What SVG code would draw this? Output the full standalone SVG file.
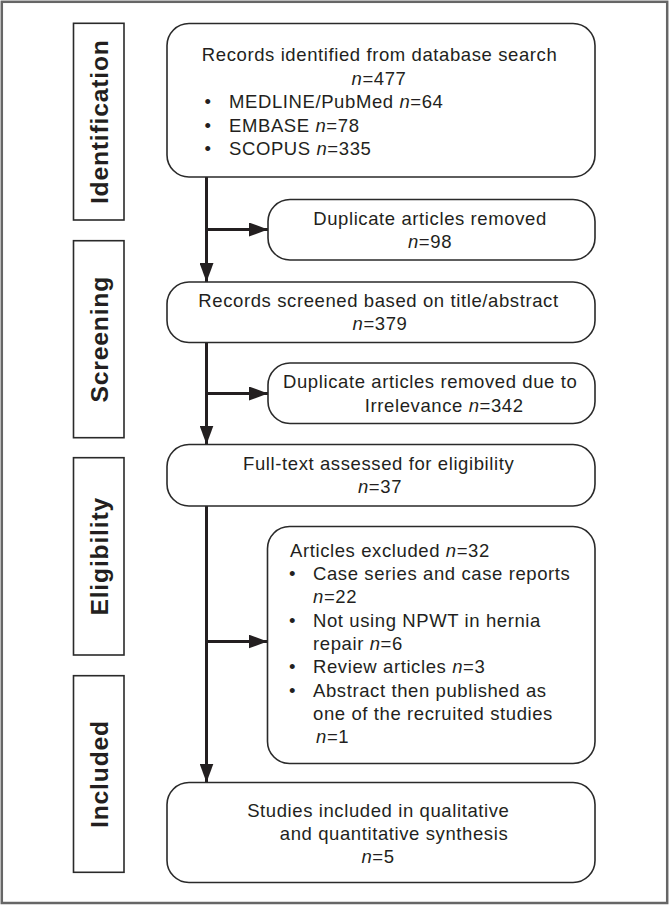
<svg xmlns="http://www.w3.org/2000/svg" width="669" height="905" viewBox="0 0 669 905">
  <style>
    .frame { fill: #ffffff; stroke: #666666; stroke-width: 2.5; }
    .box { fill: #ffffff; stroke: #2a2a2a; stroke-width: 1.6; }
    .lab { fill: #ffffff; stroke: #2a2a2a; stroke-width: 1.6; }
    .t { font-family: "Liberation Sans", Arial, Helvetica, sans-serif; font-size: 18.5px; letter-spacing: 0.6px; fill: #231f20; }
    .c { text-anchor: middle; }
    .i { font-style: italic; }
    .lt { font-family: "Liberation Sans", Arial, Helvetica, sans-serif; font-size: 24.7px; font-weight: bold; letter-spacing: 0.8px; fill: #231f20; text-anchor: middle; }
    .conn { fill: none; stroke: #231f20; stroke-width: 3; }
  </style>
  <defs>
    <marker id="arrow" markerUnits="userSpaceOnUse" markerWidth="19" markerHeight="14" refX="19" refY="7" orient="auto">
      <path d="M0,0 L19,7 L0,14 Z" fill="#231f20"/>
    </marker>
  </defs>

  <rect class="frame" x="1.8" y="1.8" width="665.4" height="901.2"/>

  <!-- Phase labels -->
  <g id="label-identification">
    <rect class="lab" x="73.5" y="23.3" width="50.5" height="196.7"/>
    <text class="lt" transform="translate(108,121.7) rotate(-90)">Identification</text>
  </g>
  <g id="label-screening">
    <rect class="lab" x="73.5" y="240.7" width="50.5" height="197"/>
    <text class="lt" transform="translate(108,339.2) rotate(-90)">Screening</text>
  </g>
  <g id="label-eligibility">
    <rect class="lab" x="73.5" y="457.7" width="50.5" height="197.3"/>
    <text class="lt" transform="translate(108,556.3) rotate(-90)">Eligibility</text>
  </g>
  <g id="label-included">
    <rect class="lab" x="73.5" y="675.7" width="50.5" height="196.6"/>
    <text class="lt" transform="translate(108,774) rotate(-90)">Included</text>
  </g>

  <!-- Connectors -->
  <g id="connectors">
    <line class="conn" x1="206.5" y1="177" x2="206.5" y2="282" marker-end="url(#arrow)"/>
    <line class="conn" x1="206.5" y1="229.5" x2="268" y2="229.5" marker-end="url(#arrow)"/>
    <line class="conn" x1="206.5" y1="342.5" x2="206.5" y2="444.5" marker-end="url(#arrow)"/>
    <line class="conn" x1="206.5" y1="393.5" x2="268" y2="393.5" marker-end="url(#arrow)"/>
    <line class="conn" x1="206.5" y1="506" x2="206.5" y2="782.5" marker-end="url(#arrow)"/>
    <line class="conn" x1="206.5" y1="641.5" x2="267.5" y2="641.5" marker-end="url(#arrow)"/>
  </g>

  <!-- Nodes -->
  <g id="records-identified">
    <rect class="box" x="167" y="23.5" width="428" height="153.5" rx="22" ry="22"/>
    <text class="t c" x="379.6" y="61">Records identified from database search</text>
    <text class="t c" x="379" y="84.5"><tspan class="i">n</tspan>=477</text>
    <text class="t c" x="208" y="108.3">•</text>
    <text class="t" x="229" y="108.3">MEDLINE/PubMed <tspan class="i">n</tspan>=64</text>
    <text class="t c" x="208" y="132">•</text>
    <text class="t" x="229" y="132">EMBASE <tspan class="i">n</tspan>=78</text>
    <text class="t c" x="208" y="155.3">•</text>
    <text class="t" x="229" y="155.3">SCOPUS <tspan class="i">n</tspan>=335</text>
  </g>

  <g id="duplicates-removed">
    <rect class="box" x="268" y="199.5" width="327" height="60.5" rx="22" ry="22"/>
    <text class="t c" x="430" y="225">Duplicate articles removed</text>
    <text class="t c" x="430" y="248.3"><tspan class="i">n</tspan>=98</text>
  </g>

  <g id="records-screened">
    <rect class="box" x="167" y="282" width="428" height="60.5" rx="22" ry="22"/>
    <text class="t c" x="378.5" y="306.7">Records screened based on title/abstract</text>
    <text class="t c" x="380" y="330"><tspan class="i">n</tspan>=379</text>
  </g>

  <g id="irrelevant-removed">
    <rect class="box" x="268" y="363" width="327" height="60.5" rx="22" ry="22"/>
    <text class="t c" x="430.2" y="388.3">Duplicate articles removed due to</text>
    <text class="t c" x="444.2" y="411.7">Irrelevance <tspan class="i">n</tspan>=342</text>
  </g>

  <g id="full-text">
    <rect class="box" x="167" y="444.5" width="428" height="61.5" rx="22" ry="22"/>
    <text class="t c" x="378.7" y="470">Full-text assessed for eligibility</text>
    <text class="t c" x="380" y="493.3"><tspan class="i">n</tspan>=37</text>
  </g>

  <g id="articles-excluded">
    <rect class="box" x="267.5" y="526.5" width="327.5" height="237" rx="22" ry="22"/>
    <text class="t" x="290" y="556.7">Articles excluded <tspan class="i">n</tspan>=32</text>
    <text class="t c" x="292.5" y="580">•</text>
    <text class="t" x="313" y="580">Case series and case reports</text>
    <text class="t" x="313" y="603.3"><tspan class="i">n</tspan>=22</text>
    <text class="t c" x="292.5" y="626.7">•</text>
    <text class="t" x="313" y="626.7">Not using NPWT in hernia</text>
    <text class="t" x="313" y="650">repair <tspan class="i">n</tspan>=6</text>
    <text class="t c" x="292.5" y="673.3">•</text>
    <text class="t" x="313" y="673.3">Review articles <tspan class="i">n</tspan>=3</text>
    <text class="t c" x="292.5" y="696.7">•</text>
    <text class="t" x="313" y="696.7">Abstract then published as</text>
    <text class="t" x="313" y="720">one of the recruited studies</text>
    <text class="t" x="316" y="743.3"><tspan class="i">n</tspan>=1</text>
  </g>

  <g id="studies-included">
    <rect class="box" x="167" y="782.5" width="428" height="100" rx="22" ry="22"/>
    <text class="t c" x="378.3" y="816.7">Studies included in qualitative</text>
    <text class="t c" x="394" y="840">and quantitative synthesis</text>
    <text class="t c" x="378" y="862.7"><tspan class="i">n</tspan>=5</text>
  </g>
</svg>
